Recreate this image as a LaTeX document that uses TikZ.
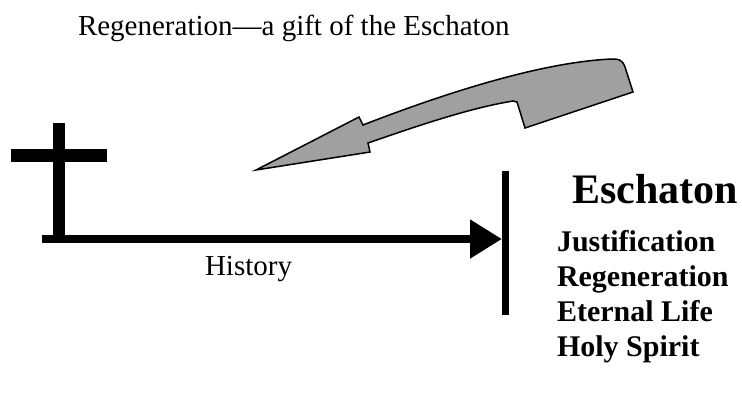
\documentclass[tikz,border=0pt]{standalone}
\usepackage{fontspec}
\setmainfont{Liberation Serif}
\usetikzlibrary{arrows.meta}
\definecolor{giftgray}{RGB}{160,160,160}

\begin{document}
\begin{tikzpicture}[
  x=1bp, y=-1bp,
  every node/.style={inner sep=0pt, outer sep=0pt},
  plain/.style={font=\fontsize{29bp}{33bp}\selectfont},
  heading/.style={font=\fontsize{42bp}{48bp}\selectfont\bfseries},
  gifts/.style={font=\fontsize{30bp}{35bp}\selectfont\bfseries, align=left},
  thick bar/.style={line width=#1, line cap=butt},
]
\useasboundingbox (0,0) rectangle (742,398);

% Title over the picture
\node[plain, anchor=base west] (title) at (78,35) {Regeneration---a gift of the Eschaton};

% The cross at the start of history
\coordinate (crosstop) at (59,123);
\coordinate (crossfoot) at (59,243);
\coordinate (beamleft) at (11,155.5);
\coordinate (beamright) at (107,155.5);
\draw[thick bar=12bp] (crosstop) -- (crossfoot);
\draw[thick bar=13bp] (beamleft) -- (beamright);

% History line running to the end
\coordinate (start) at (42,239);
\coordinate (endtop) at (505.5,171);
\coordinate (endfoot) at (505.5,315);
\coordinate (end) at (502,239);
\draw[thick bar=7bp] (endtop) -- (endfoot);
\draw[thick bar=8bp, -{Triangle[length=32bp,width=37bp]}] (start) -- (end);
\node[plain, anchor=base west] (history) at (205,275) {History};

% Eschaton and what it brings (base sits on the last line)
\node[heading, anchor=base west] (eschaton) at (572,203) {Eschaton};
\node[gifts, anchor=base west] (list) at (557,356) {Justification\\Regeneration\\Eternal Life\\Holy Spirit};

% The gift coming back from the Eschaton
\draw[line width=1.5bp, line join=miter, fill=giftgray]
  (256,170) -- (370,152) -- (368,143)
  .. controls (420,125) and (470,108) .. (513,101)
  -- (517,102) -- (525,128) -- (633,92) -- (625,67)
  .. controls (622,59) and (618,59) .. (612,59)
  .. controls (540,62) and (440,95) .. (363,125)
  -- (359,117) -- cycle;
\end{tikzpicture}
\end{document}
